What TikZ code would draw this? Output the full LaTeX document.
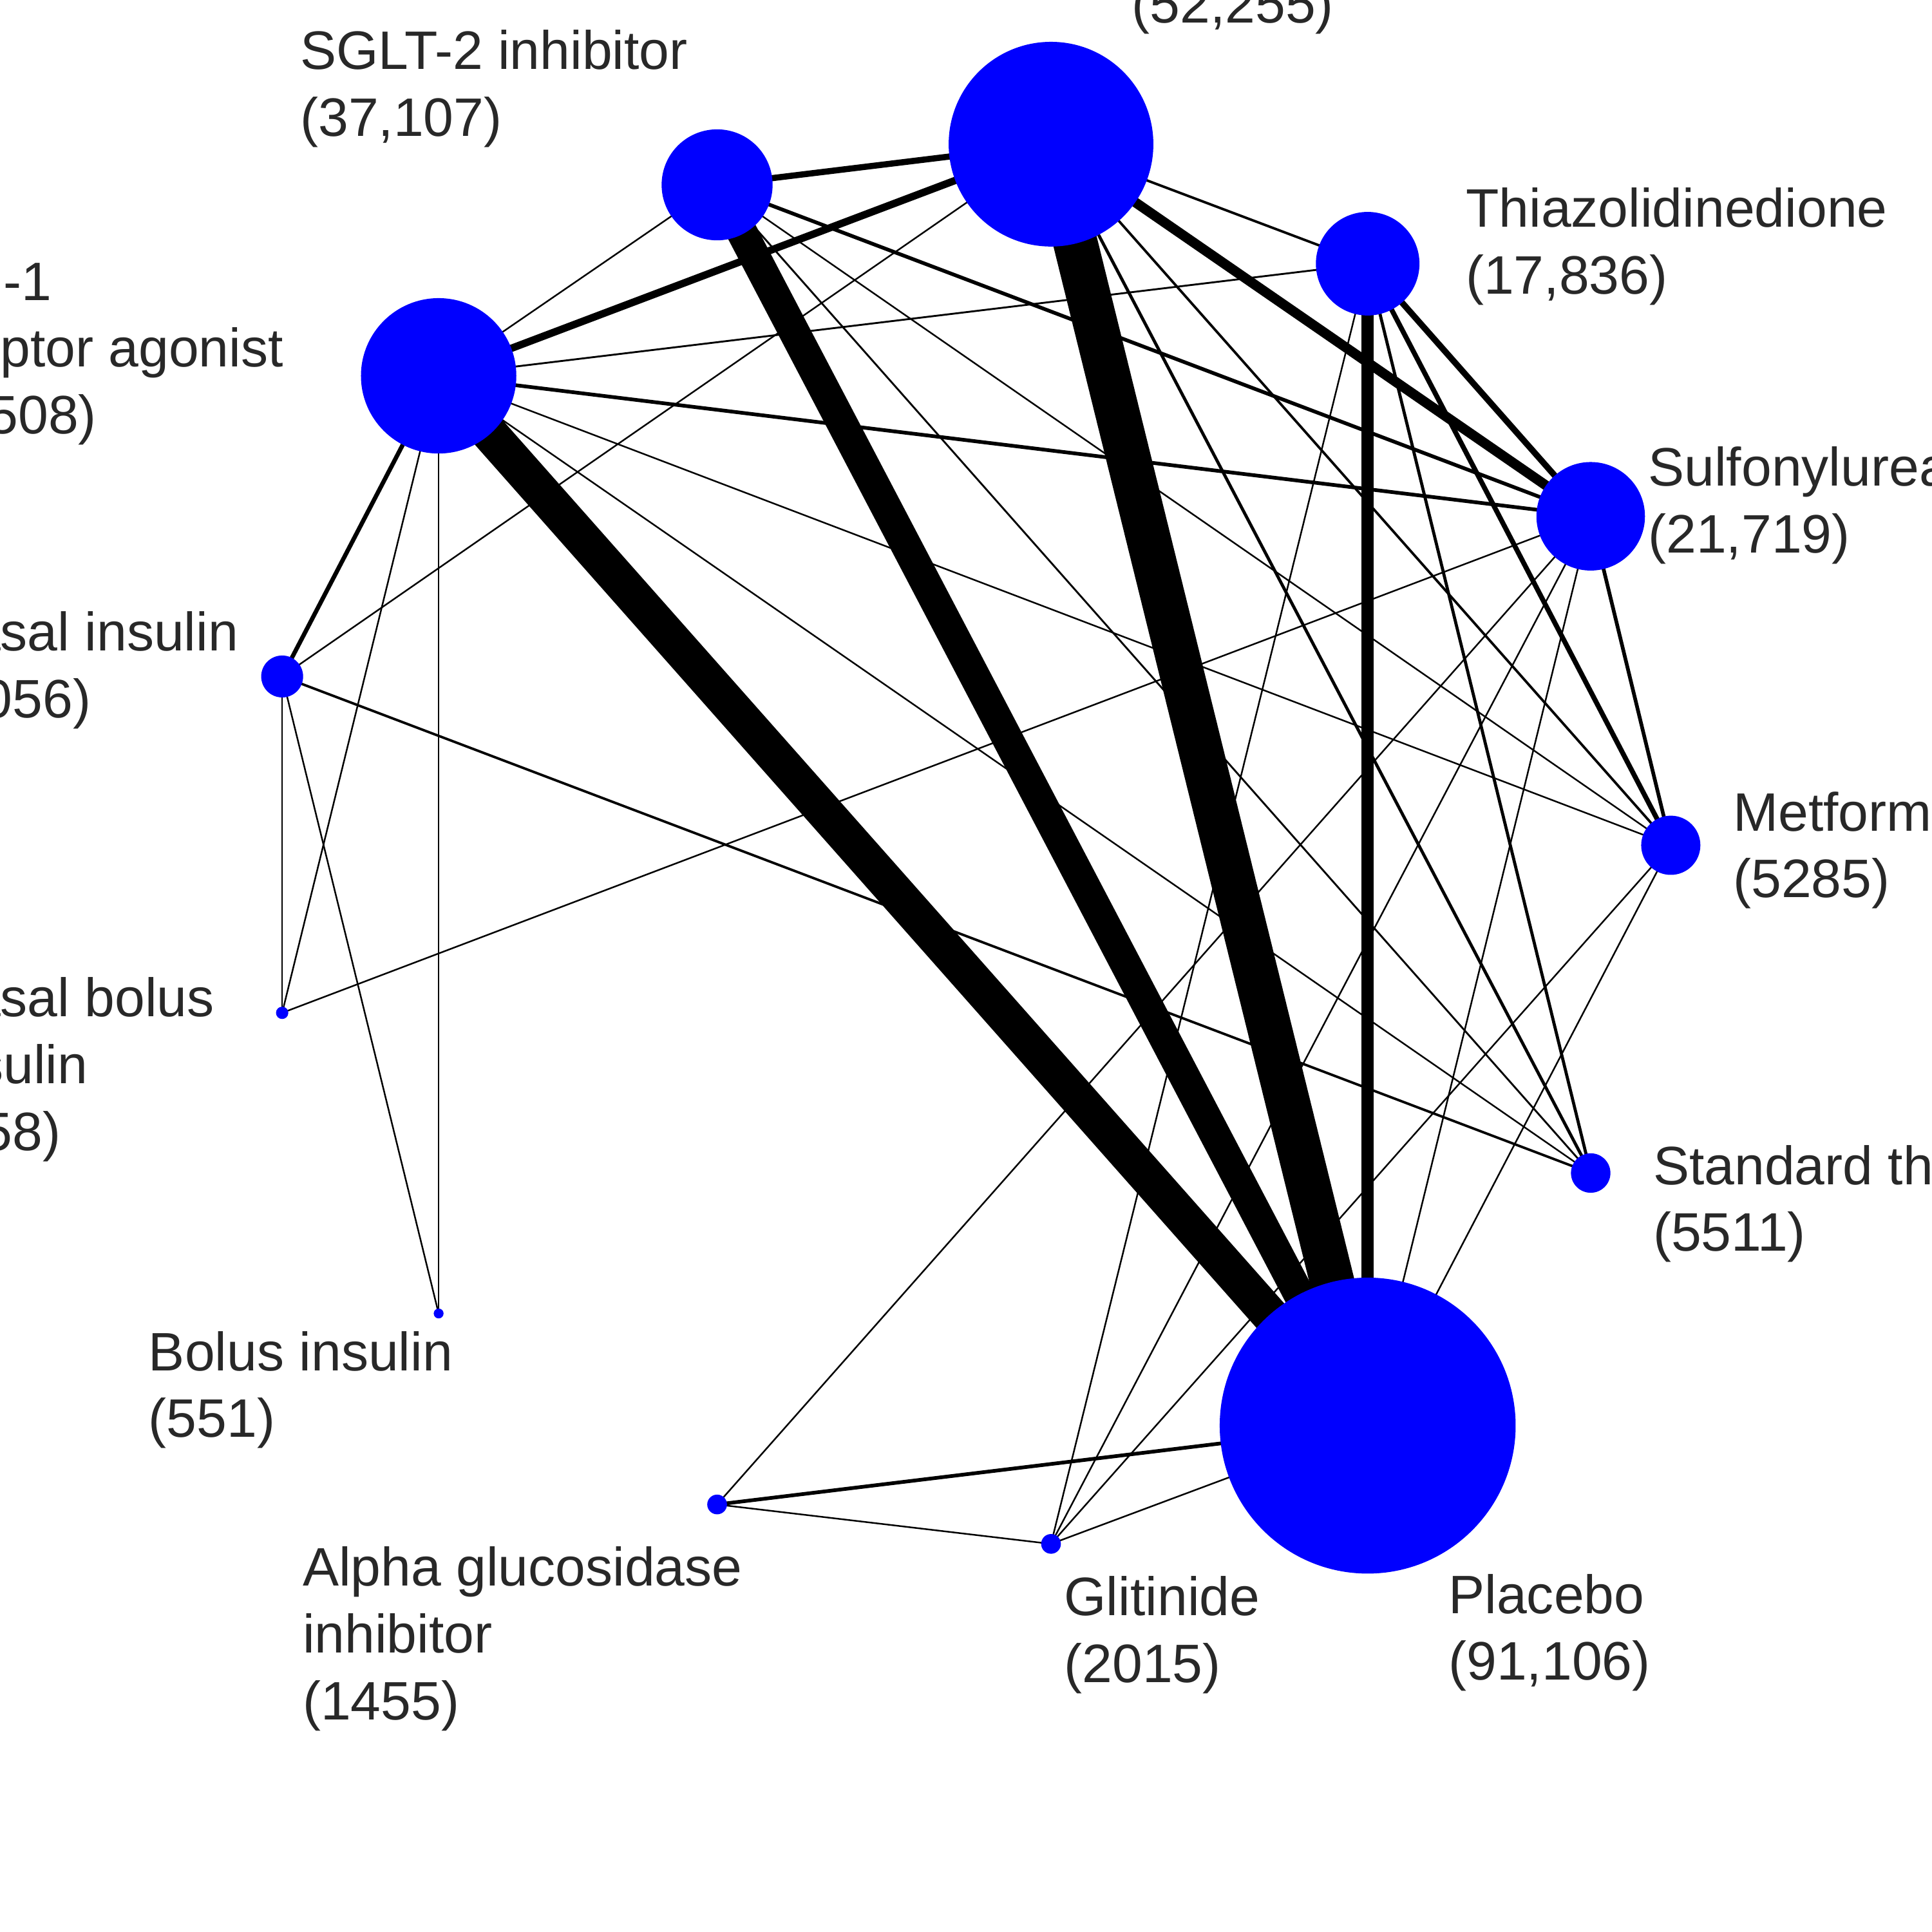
\documentclass[tikz,border=0pt]{standalone}
\usepackage{fontspec}
\setmainfont{Liberation Sans}
\begin{document}
\begin{tikzpicture}[x=0.01cm,y=-0.01cm,
  tr/.style={circle,fill={rgb,255:red,0;green,0;blue,255},inner sep=0pt,minimum size=#1*0.02cm},
  lb/.style={anchor=west,align=left,inner sep=0pt,font=\fontsize{12.5pt}{15.4pt}\selectfont,text={rgb,255:red,40;green,40;blue,40}},
  e/.style={line width=#1*0.2845pt}]
\useasboundingbox (0,0) rectangle (1568,1568);
\coordinate (DPP) at (853,117);
\coordinate (SGL) at (582,150);
\coordinate (GLP) at (356,305);
\coordinate (TZD) at (1110,214);
\coordinate (SU) at (1291,419);
\coordinate (MET) at (1356,686);
\coordinate (STD) at (1291,952);
\coordinate (PLA) at (1110,1157);
\coordinate (GLI) at (853,1253);
\coordinate (AGI) at (582,1221);
\coordinate (BOL) at (356,1066);
\coordinate (BB) at (229,822);
\coordinate (BAS) at (229,549);
% edges
\draw[e=30] (GLP) -- (PLA);
\draw[e=25] (SGL) -- (PLA);
\draw[e=36] (DPP) -- (PLA);
\draw[e=10] (TZD) -- (PLA);
\draw[e=5] (SGL) -- (DPP);
\draw[e=6] (GLP) -- (DPP);
\draw[e=2] (DPP) -- (TZD);
\draw[e=8] (DPP) -- (SU);
\draw[e=5] (TZD) -- (SU);
\draw[e=3] (GLP) -- (SU);
\draw[e=3] (SGL) -- (SU);
\draw[e=1.5] (GLP) -- (TZD);
\draw[e=3.5] (GLP) -- (BAS);
\draw[e=1.3] (GLP) -- (BB);
\draw[e=1.3] (GLP) -- (BOL);
\draw[e=1.3] (GLP) -- (MET);
\draw[e=1.3] (GLP) -- (STD);
\draw[e=1.3] (SGL) -- (GLP);
\draw[e=1.3] (DPP) -- (BAS);
\draw[e=1.3] (SGL) -- (MET);
\draw[e=1.5] (SGL) -- (STD);
\draw[e=2] (DPP) -- (MET);
\draw[e=2.5] (DPP) -- (STD);
\draw[e=1.3] (TZD) -- (GLI);
\draw[e=4] (TZD) -- (MET);
\draw[e=2.5] (TZD) -- (STD);
\draw[e=3] (SU) -- (MET);
\draw[e=1.3] (SU) -- (AGI);
\draw[e=1.3] (SU) -- (BB);
\draw[e=1.3] (SU) -- (PLA);
\draw[e=1.3] (SU) -- (GLI);
\draw[e=1.3] (MET) -- (PLA);
\draw[e=1.3] (MET) -- (GLI);
\draw[e=2] (BAS) -- (STD);
\draw[e=1.3] (BAS) -- (BB);
\draw[e=1.3] (BAS) -- (BOL);
\draw[e=3] (AGI) -- (PLA);
\draw[e=1.3] (AGI) -- (GLI);
\draw[e=1.3] (GLI) -- (PLA);
% nodes
\node[tr=83] (nDPP) at (DPP) {};
\node[tr=45] (nSGL) at (SGL) {};
\node[tr=63] (nGLP) at (GLP) {};
\node[tr=42] (nTZD) at (TZD) {};
\node[tr=44] (nSU) at (SU) {};
\node[tr=24] (nMET) at (MET) {};
\node[tr=16] (nSTD) at (STD) {};
\node[tr=120] (nPLA) at (PLA) {};
\node[tr=8] (nGLI) at (GLI) {};
\node[tr=8] (nAGI) at (AGI) {};
\node[tr=4] (nBOL) at (BOL) {};
\node[tr=5] (nBB) at (BB) {};
\node[tr=17] (nBAS) at (BAS) {};
% labels
\node[lb] (lDPP) at (918,-20) {DPP-4 inhibitor\\(52,255)};
\node[lb] (lSGL) at (243,72) {SGLT-2 inhibitor\\(37,107)};
\node[lb] (lGLP) at (-86,287) {GLP-1\\receptor agonist\\(35,508)};
\node[lb] (lBAS) at (-54,544) {Basal insulin\\(2056)};
\node[lb] (lBB) at (-54,868) {Basal bolus\\insulin\\(858)};
\node[lb] (lBOL) at (120,1128) {Bolus insulin\\(551)};
\node[lb] (lAGI) at (245,1330) {Alpha glucosidase\\inhibitor\\(1455)};
\node[lb] (lGLI) at (863,1327) {Glitinide\\(2015)};
\node[lb] (lPLA) at (1175,1325) {Placebo\\(91,106)};
\node[lb] (lSTD) at (1341,977) {Standard therapy\\(5511)};
\node[lb] (lMET) at (1406,690) {Metformin\\(5285)};
\node[lb] (lSU) at (1337,410) {Sulfonylurea\\(21,719)};
\node[lb] (lTZD) at (1189,200) {Thiazolidinedione\\(17,836)};
\end{tikzpicture}
\end{document}
